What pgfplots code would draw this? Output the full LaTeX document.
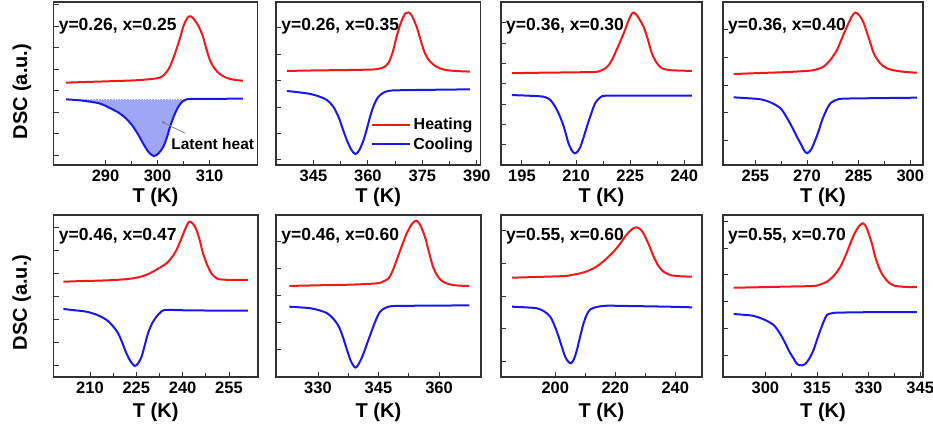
\documentclass[border=0pt]{standalone}
\usepackage{pgfplots}
\pgfplotsset{compat=1.18}
\usepackage{fontspec}
\setmainfont{Liberation Sans}
\usetikzlibrary{arrows.meta}
\definecolor{hred}{RGB}{242,24,24}
\definecolor{cblue}{RGB}{24,24,238}
\definecolor{lfill}{RGB}{160,166,246}
\definecolor{frame}{RGB}{50,50,50}
\pgfplotsset{
  dsc/.style={
    scale only axis, ymin=0, ymax=10,
    yticklabels={},
    tick align=inside, xtick pos=bottom, ytick pos=left,
    minor x tick num=1,
    axis line style={line width=1.3pt, frame},
    major tick length=5pt, minor tick length=3.5pt,
    every tick/.style={frame, line width=0.9pt},
    /pgf/number format/assume math mode=true,
    xticklabel style={font=\bfseries\fontsize{16.5}{18}\selectfont, yshift=-1.5pt},
    xlabel={T (K)},
    xlabel style={font=\bfseries\fontsize{20}{22}\selectfont, anchor=center},
    ylabel style={font=\bfseries\fontsize{20}{22}\selectfont, anchor=center},
  },
  hp/.style={hred, line width=2pt, smooth, tension=0.5, no markers},
  cp/.style={cblue, line width=2pt, smooth, tension=0.5, no markers},
}
\newcommand{\plab}[1]{\node[anchor=west, font=\bfseries\fontsize{17.5}{19}\selectfont, inner sep=0pt] at (rel axis cs:0.025,0.85) {#1};}
\newcommand{\plabb}[1]{\node[anchor=west, font=\bfseries\fontsize{17.5}{19}\selectfont, inner sep=0pt] at (rel axis cs:0.025,0.87) {#1};}
\begin{document}
\begin{tikzpicture}
\useasboundingbox (0,0) rectangle (933pt,430pt);
% ---------- Row 1 ----------
\begin{axis}[dsc, at={(53.5pt,265pt)}, anchor=south west, width=204pt, height=163pt,
  xmin=280, xmax=319.2, xtick={290,300,310},
  ytick={0.6,1.92,3.24,4.56,5.88,7.2,8.52,9.84},
  xlabel style={at={(axis description cs:0.5,-0.196)}},
  ylabel={DSC (a.u.)}, ylabel style={at={(axis description cs:-0.155,0.45)}}]
\addplot[fill=lfill, draw=none] coordinates {(282.4,4.04) (285.5,3.95) (288.8,3.78) (290.8,3.5) (292.7,3.17) (294.1,2.8) (295.3,2.35) (296.3,1.85) (297.2,1.33) (298.3,0.78) (299.3,0.55) (300.2,0.72) (301.1,1.12) (301.8,1.7) (302.4,2.35) (303.2,3.05) (304,3.58) (304.8,3.9) (305.6,4.04)} -- cycle;
\addplot[white, line width=0.8pt, dotted] coordinates {(282.6,4.04) (305.4,4.04)};
\addplot[hp] coordinates {(282.4,5.05) (287,5.1) (292,5.15) (296,5.2) (299,5.28) (300.6,5.38) (301.6,5.65) (302.4,6.05) (303.3,6.8) (304.2,7.67) (305,8.55) (305.8,9.05) (306.4,9.12) (307.1,8.9) (307.9,8.5) (308.7,7.9) (309.4,7.1) (310.1,6.4) (311,5.9) (311.9,5.6) (313,5.38) (314.5,5.24) (316.4,5.17)};
\addplot[cp] coordinates {(282.4,4.03) (285.5,3.95) (288.8,3.78) (290.8,3.5) (292.7,3.17) (294.1,2.8) (295.3,2.35) (296.3,1.85) (297.2,1.33) (298.3,0.78) (299.3,0.55) (300.2,0.72) (301.1,1.12) (301.8,1.7) (302.4,2.35) (303.2,3.05) (304,3.58) (304.8,3.9) (305.6,4.03) (307,4.06) (311,4.06) (316.4,4.07)};
\draw[gray, line width=0.8pt, -{Latex[length=4pt,width=3pt]}] (axis cs:305.3,1.94) -- (axis cs:300.6,2.7);
\node[font=\bfseries\fontsize{15.5}{17}\selectfont, inner sep=0pt] at (axis cs:310.6,1.29) {Latent heat};
\plab{y=0.26, x=0.25}
\end{axis}

\begin{axis}[dsc, at={(276pt,265pt)}, anchor=south west, width=204.5pt, height=163pt,
  xmin=334.7, xmax=391, xtick={345,360,375,390},
  ytick={0.31,1.93,3.55,5.17,6.79,8.41},
  xlabel style={at={(axis description cs:0.5,-0.196)}},
  legend style={draw=none, fill=none, at={(rel axis cs:0.465,0.30)}, anchor=north west,
    font=\bfseries\fontsize{16}{17}\selectfont, row sep=2.5pt, inner sep=0pt,
    nodes={inner sep=2pt}},
  legend image code/.code={\draw[#1] (0pt,0pt) -- (38pt,0pt);}]
\addplot[hp] coordinates {(337.7,5.77) (345,5.8) (352,5.82) (358,5.84) (362,5.87) (364.2,5.98) (365.6,6.24) (366.8,6.9) (367.9,7.87) (369.2,8.8) (370.3,9.3) (371.1,9.36) (372,9.2) (373.4,8.49) (374.6,7.6) (375.7,6.85) (377.1,6.35) (378.9,6.03) (381,5.85) (384,5.77) (388.1,5.73)};
\addlegendentry{Heating}
\addplot[cp] coordinates {(337.7,4.54) (341,4.46) (344.1,4.36) (346.6,4.2) (348.7,3.99) (350.4,3.6) (351.9,2.96) (353.1,2.2) (354.2,1.53) (355.4,0.95) (356.5,0.67) (357.6,0.9) (358.8,1.53) (359.7,2.2) (360.6,2.96) (361.7,3.7) (362.9,4.19) (364.4,4.45) (366.1,4.56) (370,4.59) (380,4.62) (388.1,4.64)};
\addlegendentry{Cooling}
\plab{y=0.26, x=0.35}
\end{axis}

\begin{axis}[dsc, at={(501pt,265pt)}, anchor=south west, width=201pt, height=163pt,
  xmin=189.2, xmax=244.9, xtick={195,210,225,240},
  ytick={0,1.23,2.48,3.73,4.98,6.23,7.48,8.73,9.98},
  xlabel style={at={(axis description cs:0.5,-0.196)}}]
\addplot[hp] coordinates {(192.2,5.63) (200,5.66) (208,5.68) (214,5.7) (215.8,5.72) (217,5.8) (218.1,5.93) (219.3,6.2) (220.4,6.65) (221.8,7.35) (223.2,8.08) (224.6,8.9) (225.5,9.3) (226,9.35) (226.8,9.2) (227.8,8.85) (228.7,8.49) (229.9,7.7) (231,6.85) (232.4,6.25) (233.8,5.93) (236,5.82) (239,5.79) (242.1,5.77)};
\addplot[cp] coordinates {(192.2,4.29) (197,4.25) (201,4.19) (202.8,4.0) (204.2,3.58) (205.5,3.0) (206.6,2.35) (207.3,1.8) (207.9,1.33) (208.8,0.9) (209.6,0.72) (210.4,0.82) (211.2,1.12) (212.1,1.7) (213,2.35) (214.2,3.15) (215.3,3.79) (216.6,4.13) (218.1,4.25) (225,4.25) (242.1,4.25)};
\plab{y=0.36, x=0.30}
\end{axis}

\begin{axis}[dsc, at={(723pt,265pt)}, anchor=south west, width=200pt, height=163pt,
  xmin=245.6, xmax=303.7, xtick={255,270,285,300},
  ytick={1.53,3.22,4.91,6.6,8.29,9.98},
  xlabel style={at={(axis description cs:0.5,-0.196)}}]
\addplot[hp] coordinates {(248.7,5.58) (256,5.64) (264,5.7) (271,5.79) (273,5.88) (274.8,6.03) (276.8,6.45) (278.7,7.06) (280.2,7.8) (281.6,8.49) (283,9.1) (284,9.35) (285.2,9.18) (286.5,8.69) (288,7.75) (289.4,6.85) (291.2,6.25) (293.2,5.93) (296,5.78) (299,5.7) (302,5.66)};
\addplot[cp] coordinates {(248.7,4.15) (252.5,4.1) (256.5,4.03) (259.5,3.83) (262.3,3.48) (264,2.95) (265.6,2.35) (266.9,1.8) (268.1,1.33) (269.1,0.92) (270,0.72) (271.2,0.95) (272.4,1.53) (273.4,2.1) (274.4,2.76) (275.6,3.35) (276.8,3.79) (278.6,4.0) (280.7,4.07) (290,4.1) (302,4.13)};
\plab{y=0.36, x=0.40}
\end{axis}

% ---------- Row 2 ----------
\begin{axis}[dsc, at={(53.5pt,53pt)}, anchor=south west, width=204.5pt, height=162pt,
  xmin=198.2, xmax=264.4, xtick={210,225,240,255},
  ytick={0.74,2.16,3.58,5.0,6.42,7.84,9.26},
  xlabel style={at={(axis description cs:0.5,-0.216)}},
  ylabel={DSC (a.u.)}, ylabel style={at={(axis description cs:-0.155,0.46)}}]
\addplot[hp] coordinates {(201.4,5.88) (207,5.92) (213.2,5.95) (219,6.0) (224,6.09) (227,6.22) (229.4,6.4) (232.2,6.7) (234.8,7.02) (236.5,7.38) (238,7.84) (239.5,8.5) (240.7,9.07) (241.6,9.45) (242.3,9.59) (243.4,9.45) (244.5,9.07) (245.6,8.4) (246.6,7.63) (248,6.9) (249.3,6.4) (250.6,6.15) (252,6.03) (256,5.99) (261.1,5.99)};
\addplot[cp] coordinates {(201.4,4.2) (205,4.12) (208.9,4.03) (212.5,3.82) (215.4,3.52) (217.4,3.15) (219.1,2.7) (220.5,2.1) (221.8,1.46) (223.2,0.95) (224.5,0.68) (225.6,0.85) (226.7,1.25) (227.8,2.0) (228.8,2.7) (230.1,3.3) (231.5,3.72) (232.8,3.98) (234.2,4.14) (240,4.12) (250,4.1) (261.1,4.09)};
\plabb{y=0.46, x=0.47}
\end{axis}

\begin{axis}[dsc, at={(276pt,53pt)}, anchor=south west, width=205pt, height=162pt,
  xmin=319.6, xmax=370.4, xtick={330,345,360},
  ytick={0,1.67,3.34,5.01,6.68,8.35,10.02},
  xlabel style={at={(axis description cs:0.5,-0.216)}}]
\addplot[hp] coordinates {(322.9,5.62) (330,5.66) (338,5.7) (344.6,5.78) (346.2,5.9) (347.5,6.09) (348.5,6.55) (349.5,7.22) (350.8,8.1) (352,8.87) (353.3,9.45) (354.4,9.65) (355.4,9.35) (356.5,8.66) (357.5,7.7) (358.5,6.81) (359.7,6.2) (361,5.88) (363,5.7) (365,5.64) (367.5,5.62)};
\addplot[cp] coordinates {(322.9,4.34) (325.5,4.3) (328.2,4.24) (330.3,4.12) (332.3,3.93) (333.8,3.6) (335.2,3.1) (336.2,2.45) (337.2,1.67) (338.2,0.95) (339.3,0.58) (340.3,0.9) (341.3,1.46) (342.3,2.15) (343.4,2.9) (344.4,3.55) (345.4,4.03) (346.8,4.28) (348.7,4.38) (355,4.4) (367.5,4.42)};
\plabb{y=0.46, x=0.60}
\end{axis}

\begin{axis}[dsc, at={(501pt,53pt)}, anchor=south west, width=201pt, height=162pt,
  xmin=181.9, xmax=248.9, xtick={200,220,240},
  ytick={0.94,2.97,5.0,7.03,9.06},
  xlabel style={at={(axis description cs:0.5,-0.216)}}]
\addplot[hp] coordinates {(185.6,6.13) (193,6.17) (202.8,6.23) (205.5,6.3) (208.3,6.4) (210.6,6.53) (212.8,6.71) (215,6.98) (217.2,7.33) (219.5,7.75) (221.7,8.25) (223.4,8.7) (225,9.03) (226.2,9.2) (227.2,9.24) (228.3,9.12) (229.4,8.87) (231.1,8.2) (232.8,7.43) (234.4,6.85) (236.1,6.5) (238.3,6.3) (240.6,6.23) (245.6,6.19)};
\addplot[cp] coordinates {(185.6,4.34) (190,4.3) (193.9,4.24) (196.3,4.05) (198.3,3.72) (199.8,3.15) (201.1,2.49) (202.2,1.85) (203.3,1.25) (204.3,0.95) (205.2,0.85) (206.2,1.1) (207.2,1.67) (208.3,2.5) (209.4,3.31) (210.5,3.85) (211.7,4.18) (214,4.33) (217.2,4.4) (225,4.38) (235,4.35) (240,4.33) (245.6,4.3)};
\plabb{y=0.55, x=0.60}
\end{axis}

\begin{axis}[dsc, at={(723pt,53pt)}, anchor=south west, width=200pt, height=162pt,
  xmin=287.7, xmax=345.8, xtick={300,315,330,345},
  ytick={1.36,3.01,4.66,6.31,7.96,9.61},
  xlabel style={at={(axis description cs:0.5,-0.216)}}]
\addplot[hp] coordinates {(290.8,5.51) (298,5.54) (306,5.58) (314,5.62) (316,5.72) (317.9,5.88) (319.9,6.25) (321.8,6.81) (323.3,7.5) (324.7,8.25) (325.9,8.85) (327.1,9.28) (328.3,9.49) (329.2,9.3) (330,8.87) (331,8.2) (331.9,7.43) (333.1,6.7) (334.4,6.19) (335.8,5.85) (337.3,5.65) (340,5.57) (344,5.54)};
\addplot[cp] coordinates {(290.8,3.89) (293.7,3.84) (296.6,3.77) (299.6,3.55) (302.4,3.21) (304.2,2.7) (305.8,2.08) (307,1.55) (308.2,1.15) (309,0.85) (309.7,0.74) (310.7,0.72) (311.6,0.8) (312.8,1.15) (314,1.67) (315,2.3) (316,2.9) (317,3.45) (317.9,3.83) (319.2,3.93) (320.8,3.97) (330,4.0) (344,4.01)};
\plabb{y=0.55, x=0.70}
\end{axis}
\end{tikzpicture}
\end{document}
